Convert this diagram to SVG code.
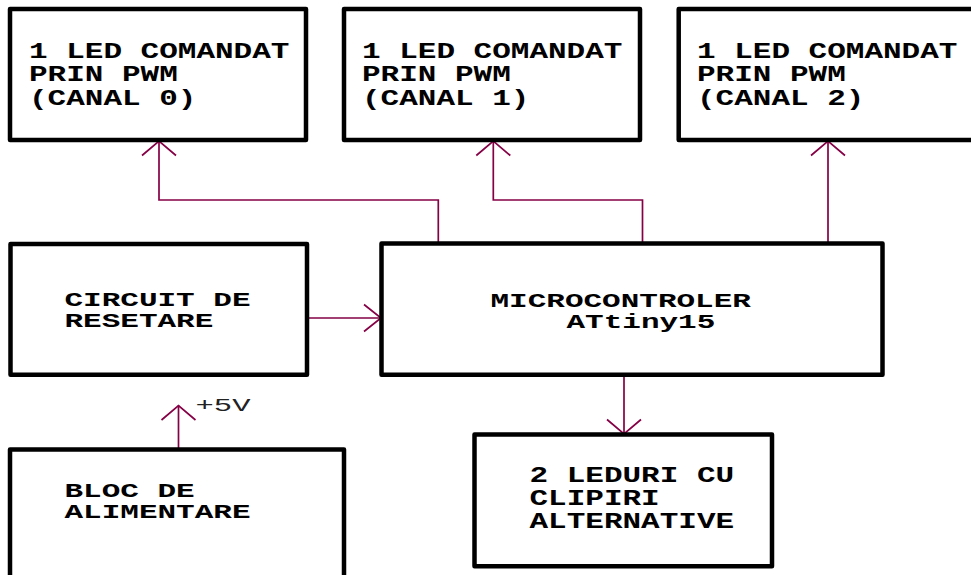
<svg xmlns="http://www.w3.org/2000/svg" width="971" height="575" viewBox="0 0 971 575">
<style>
.box{fill:#fff;stroke:#000;stroke-width:4.5;stroke-linejoin:round}
.t{font-family:"Liberation Mono","Courier New",monospace;font-weight:bold;font-size:22px;fill:#000}
.s{font-size:20px}
.v{font-family:"Liberation Mono","Courier New",monospace;font-size:19px;fill:#222}
.c{fill:none;stroke:#850045;stroke-width:1.7}
</style>
<defs>
<marker id="arr" markerUnits="userSpaceOnUse" viewBox="-20 -20 40 40" markerWidth="40" markerHeight="40" refX="0" refY="0" orient="auto" overflow="visible">
<path d="M-14.5,-17 L0,0 L-14.5,17" fill="none" stroke="#850045" stroke-width="1.7"/>
</marker>
<marker id="arrH" markerUnits="userSpaceOnUse" viewBox="-20 -20 40 40" markerWidth="40" markerHeight="40" refX="0" refY="0" orient="auto" overflow="visible">
<path d="M-17,-13.5 L0,0 L-17,13.5" fill="none" stroke="#850045" stroke-width="1.7"/>
</marker>
</defs>
<g id="connectors">
<path class="c" d="M438.3,243 V200 H159 V141" marker-end="url(#arr)"/>
<path class="c" d="M642.5,243 V200 H493.3 V141" marker-end="url(#arr)"/>
<path class="c" d="M828,243 V141" marker-end="url(#arr)"/>
<path class="c" d="M307,318 H381" marker-end="url(#arrH)"/>
<path class="c" d="M624,375 V434" marker-end="url(#arr)"/>
<path class="c" d="M178.5,449.5 V405.5" marker-end="url(#arr)"/>
<text class="v" x="195.5" y="411" textLength="55" lengthAdjust="spacingAndGlyphs">+5V</text>
</g>
<g id="led0">
<rect class="box" x="10" y="9" width="296" height="131"/>
<text class="t" x="29" y="57.5" textLength="260.4" lengthAdjust="spacingAndGlyphs">1 LED COMANDAT</text>
<text class="t" x="29" y="81" textLength="148.8" lengthAdjust="spacingAndGlyphs">PRIN PWM</text>
<text class="t" x="29" y="104.5" textLength="167.4" lengthAdjust="spacingAndGlyphs">(CANAL 0)</text>
</g>
<g id="led1">
<rect class="box" x="344" y="9" width="296" height="131"/>
<text class="t" x="362" y="57.5" textLength="260.4" lengthAdjust="spacingAndGlyphs">1 LED COMANDAT</text>
<text class="t" x="362" y="81" textLength="148.8" lengthAdjust="spacingAndGlyphs">PRIN PWM</text>
<text class="t" x="362" y="104.5" textLength="167.4" lengthAdjust="spacingAndGlyphs">(CANAL 1)</text>
</g>
<g id="led2">
<rect class="box" x="678.7" y="9" width="300" height="131"/>
<text class="t" x="697" y="57.5" textLength="260.4" lengthAdjust="spacingAndGlyphs">1 LED COMANDAT</text>
<text class="t" x="697" y="81" textLength="148.8" lengthAdjust="spacingAndGlyphs">PRIN PWM</text>
<text class="t" x="697" y="104.5" textLength="167.4" lengthAdjust="spacingAndGlyphs">(CANAL 2)</text>
</g>
<g id="reset">
<rect class="box" x="10.5" y="244" width="296.5" height="130.7"/>
<text class="t s" x="64.5" y="306.2" textLength="186" lengthAdjust="spacingAndGlyphs">CIRCUIT DE</text>
<text class="t s" x="64.5" y="327" textLength="148.8" lengthAdjust="spacingAndGlyphs">RESETARE</text>
</g>
<g id="mcu">
<rect class="box" x="381.5" y="243.5" width="501" height="131.2"/>
<text class="t s" x="490.5" y="306.5" textLength="260.4" lengthAdjust="spacingAndGlyphs">MICROCONTROLER</text>
<text class="t s" x="566.5" y="327.5" textLength="148.8" lengthAdjust="spacingAndGlyphs">ATtiny15</text>
</g>
<g id="leds2">
<rect class="box" x="474.5" y="434.5" width="297.5" height="131.8"/>
<text class="t" x="529.5" y="482.3" textLength="204.6" lengthAdjust="spacingAndGlyphs">2 LEDURI CU</text>
<text class="t" x="529.5" y="505" textLength="130.2" lengthAdjust="spacingAndGlyphs">CLIPIRI</text>
<text class="t" x="529.5" y="528.3" textLength="204.6" lengthAdjust="spacingAndGlyphs">ALTERNATIVE</text>
</g>
<g id="power">
<rect class="box" x="10" y="449.5" width="334" height="140"/>
<text class="t s" x="64.5" y="497" textLength="130.2" lengthAdjust="spacingAndGlyphs">BLOC DE</text>
<text class="t s" x="64.5" y="518" textLength="186" lengthAdjust="spacingAndGlyphs">ALIMENTARE</text>
</g>
</svg>
